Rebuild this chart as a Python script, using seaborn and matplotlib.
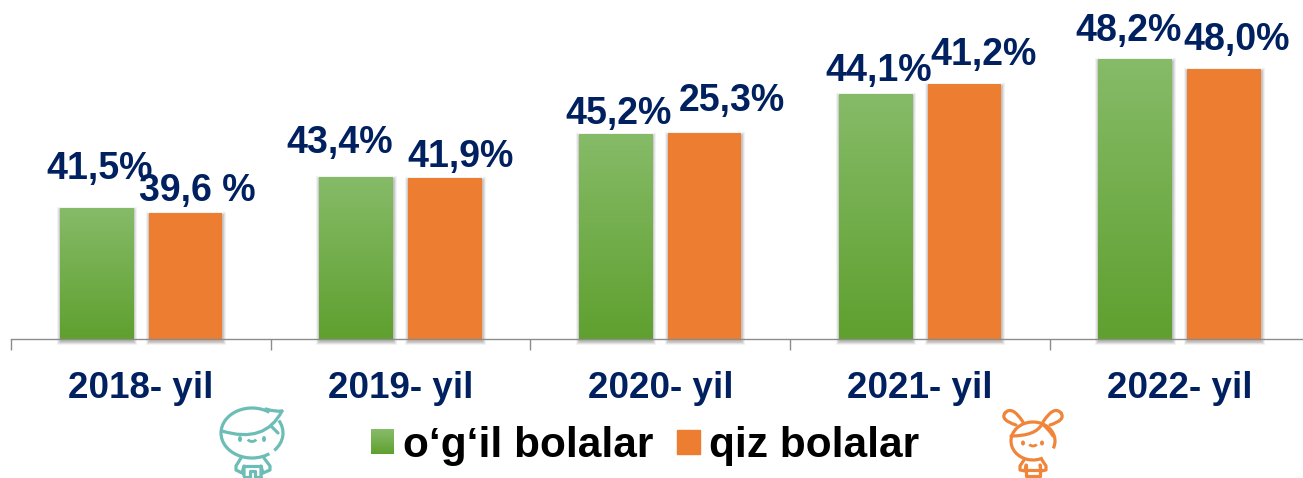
import matplotlib
matplotlib.use("Agg")
import matplotlib.pyplot as plt
import matplotlib.patheffects as pe
from matplotlib.legend_handler import HandlerBase
from matplotlib.patches import Ellipse, Arc, Rectangle, Patch, PathPatch
from matplotlib.path import Path
import numpy as np
import pandas as pd
import seaborn as sns

years = ["2018- yil", "2019- yil", "2020- yil", "2021- yil", "2022- yil"]
series_names = ["o‘g‘il bolalar", "qiz bolalar"]
# bar heights as drawn in the picture (they do not follow the printed labels)
boys_height = [131, 162, 205, 245, 280]
girls_height = [126, 161, 206, 255, 270]
boys_labels = ["41,5%", "43,4%", "45,2%", "44,1%", "48,2%"]
girls_labels = ["39,6 %", "41,9%", "25,3%", "41,2%", "48,0%"]

# hand placed labels in the original, offset from the bar top centre in pixels
boys_shift = [(3, 39), (-16, 34), (3, 20), (3, 23), (-7, 28)]
girls_shift = [(12, 22), (16, 21), (27, 32), (19, 29), (13, 29)]

NAVY = "#002060"
GREEN_TOP = np.array([0x86, 0xBB, 0x68]) / 255
GREEN_BOTTOM = np.array([0x5F, 0xA0, 0x2F]) / 255
ORANGE = "#ED7D31"
TEAL = "#6BBDB5"
ICON_ORANGE = "#F0853A"
W, H = 1303, 478

sns.set_style("white")
plt.rcParams["font.family"] = ["Liberation Sans", "DejaVu Sans"]

df = pd.DataFrame({
    "year": years * 2,
    "height": boys_height + girls_height,
    "group": [series_names[0]] * 5 + [series_names[1]] * 5,
})

fig = plt.figure(figsize=(W / 100, H / 100), dpi=100)
ax = fig.add_axes([11 / W, (H - 339) / H, 259.7 * 5 / W, 339 / H])

sns.barplot(data=df, x="year", y="height", hue="group", ax=ax, width=0.685, gap=0.175,
            palette=["#5FA02F", ORANGE], legend=False, saturation=1)

gradient = np.linspace(0, 1, 256)[:, None, None] * (GREEN_BOTTOM - GREEN_TOP) + GREEN_TOP
shadow = [pe.Stroke(linewidth=lw, foreground="black", alpha=a, offset=(0, -1.5))
          for lw, a in ((5, 0.05), (3.5, 0.07), (2, 0.1))] + [pe.Normal()]

for cont, labels, shifts in zip(ax.containers, [boys_labels, girls_labels], [boys_shift, girls_shift]):
    for bar, lab, shift in zip(cont, labels, shifts):
        bar.set_edgecolor("none")
        bar.set_linewidth(0)
        bar.set_path_effects(shadow)
        bar.set_clip_on(False)
        x0, w, h = bar.get_x(), bar.get_width(), bar.get_height()
        if cont is ax.containers[0]:
            im = ax.imshow(gradient, extent=(x0, x0 + w, 0, h), aspect="auto", zorder=bar.get_zorder() + 0.1)
            im.set_clip_path(bar)
        ax.annotate(lab, xy=(x0 + w / 2, h), xytext=shift, textcoords="offset pixels",
                    ha="center", va="center", color=NAVY, fontsize=27, fontweight="bold",
                    annotation_clip=False, zorder=5)
ax.set_xlim(-0.5, 4.5)
ax.set_ylim(0, 339)

ax.set_xlabel("")
ax.set_ylabel("")
ax.set_yticks([])
ax.tick_params(axis="x", which="major", length=0, pad=23, labelsize=26.5, labelcolor=NAVY)
for t in ax.get_xticklabels():
    t.set_fontweight("bold")
ax.set_xticks(np.arange(-0.5, 5), minor=True)
ax.tick_params(axis="x", which="minor", bottom=True, length=8, width=1, color="#8C8C8C")
sns.despine(ax=ax, left=True)
ax.spines["bottom"].set_color("#8C8C8C")
ax.spines["bottom"].set_linewidth(1)


class GradientSquare(HandlerBase):
    def create_artists(self, legend, orig, xd, yd, width, height, fontsize, trans):
        n = 24
        out = []
        for i in range(n):
            c = GREEN_TOP + (GREEN_BOTTOM - GREEN_TOP) * i / (n - 1)
            out.append(Rectangle((-xd, -yd + height * (n - 1 - i) / n), width, height / n + 0.2,
                                 fc=c, ec="none", transform=trans))
        return out


handles = [Patch(color="#5FA02F"), Patch(color=ORANGE)]
fig.legend(handles, series_names, ncol=2, loc="center left", bbox_to_anchor=(337 / W, 1 - 446 / H),
           frameon=False, prop={"size": 30.5, "weight": "bold"}, labelcolor="black",
           handler_map={handles[0]: GradientSquare()},
           handlelength=0.54, handleheight=0.52, handletextpad=0.21, columnspacing=0.57, borderpad=0.3)

# overlay in pixel coordinates for the two small line icons
deco = fig.add_axes([0, 0, 1, 1], zorder=10)
deco.set_xlim(0, W)
deco.set_ylim(H, 0)
deco.axis("off")
deco.patch.set_alpha(0)


def line(xs, ys, color, lw=2.3):
    deco.plot(xs, ys, color=color, lw=lw, solid_capstyle="round", solid_joinstyle="round")


def curve(p0, ctrl, p1, color, lw=2.3):
    path = Path([p0, ctrl, p1], [Path.MOVETO, Path.CURVE3, Path.CURVE3])
    deco.add_patch(PathPatch(path, fc="none", ec=color, lw=lw, capstyle="round"))


# boy
deco.add_patch(Arc((252, 433), 62, 50, theta1=50, theta2=310, ec=TEAL, lw=2.3))
deco.add_patch(Arc((252, 433), 62, 50, theta1=-25, theta2=38, ec=TEAL, lw=2.3))
curve((222, 431), (265, 444), (282, 411), TEAL)
curve((266, 409), (275, 412), (282, 411), TEAL)
line([272, 278], [427, 433], TEAL)
deco.add_patch(Ellipse((240, 439), 4, 6, fc=TEAL, ec="none"))
deco.add_patch(Ellipse((264, 439), 4, 6, fc=TEAL, ec="none"))
deco.add_patch(Arc((252, 438), 9, 7, theta1=20, theta2=160, ec=TEAL, lw=2))
line([241, 236, 236, 242, 244, 244], [458, 466, 470, 473, 466, 476], TEAL)
line([264, 270, 270, 263, 261, 261], [458, 466, 470, 473, 466, 476], TEAL)
line([244, 261], [466, 466], TEAL)
line([244, 250, 250, 255, 255, 261], [477, 477, 471, 471, 477, 477], TEAL)

# girl
deco.add_patch(Arc((1033, 441), 44, 38, theta1=60, theta2=380, ec=ICON_ORANGE, lw=2.3))
curve((1016, 425), (1000, 420), (1005, 413), ICON_ORANGE)
curve((1005, 413), (1012, 405), (1023, 422), ICON_ORANGE)
curve((1050, 425), (1066, 420), (1061, 413), ICON_ORANGE)
curve((1061, 413), (1054, 405), (1043, 422), ICON_ORANGE)
curve((1011, 436), (1036, 436), (1042, 424), ICON_ORANGE)
curve((1042, 424), (1048, 428), (1053, 436), ICON_ORANGE)
deco.add_patch(Ellipse((1023, 443), 4, 5, fc=ICON_ORANGE, ec="none"))
deco.add_patch(Ellipse((1042, 443), 4, 5, fc=ICON_ORANGE, ec="none"))
deco.add_patch(Arc((1033, 443), 8, 6, theta1=20, theta2=160, ec=ICON_ORANGE, lw=2))
line([1024, 1020, 1020, 1025, 1026], [460, 466, 470, 471, 465], ICON_ORANGE)
line([1042, 1046, 1046, 1041, 1040], [460, 466, 470, 471, 465], ICON_ORANGE)
line([1026, 1026, 1040, 1040], [465, 476, 476, 465], ICON_ORANGE)
line([1026, 1040], [470, 470], ICON_ORANGE)

fig.savefig("out.png", dpi=100)
